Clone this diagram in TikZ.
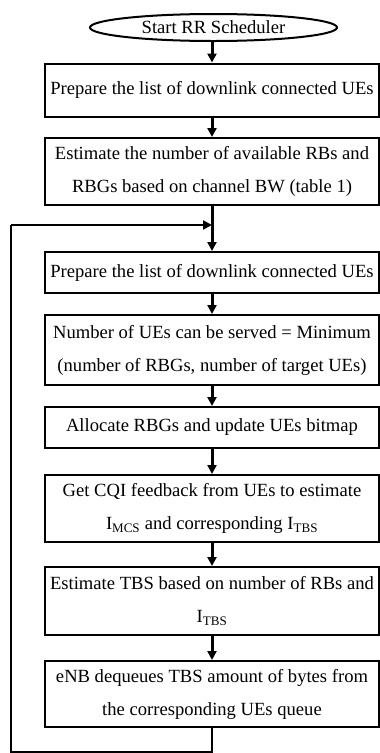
\documentclass[tikz,border=0pt]{standalone}
\usepackage{fontspec}
\setmainfont{Liberation Serif}
\usetikzlibrary{shapes.geometric,arrows.meta}
\begin{document}
\begin{tikzpicture}[x=1pt,y=-1pt,
  procbox/.style={draw=black,line width=2pt,rectangle,minimum width=334pt,inner sep=0pt,align=center,font=\fontsize{18.6}{33}\selectfont},
  arr/.style={line width=3pt,-{Triangle[width=9pt,length=9pt]}},
  fbline/.style={line width=2.5pt}]
\useasboundingbox (0,0) rectangle (380,753);
\node[draw=black,line width=2pt,ellipse,minimum width=247pt,minimum height=27pt,inner sep=0pt,font=\fontsize{18.6}{20}\selectfont] (start) at (213.5,27.5) {Start RR Scheduler};
\node[procbox,minimum height=53pt] (b1) at (212,90) {Prepare the list of downlink connected UEs};
\node[procbox,minimum height=67pt] (b2) at (212,171.5) {Estimate the number of available RBs and\\RBGs based on channel BW (table 1)};
\node[procbox,minimum height=41pt] (b3) at (212,272.5) {Prepare the list of downlink connected UEs};
\node[procbox,minimum height=70pt] (b4) at (212,350) {Number of UEs can be served = Minimum\\(number of RBGs, number of target UEs)};
\node[procbox,minimum height=41pt] (b5) at (212,427.5) {Allocate RBGs and update UEs bitmap};
\node[procbox,minimum height=67pt] (b6) at (212,508.5) {Get CQI feedback from UEs to estimate\\I\textsubscript{MCS} and corresponding I\textsubscript{TBS}};
\node[procbox,minimum height=68pt] (b7) at (212,601) {Estimate TBS based on number of RBs and\\I\textsubscript{TBS}};
\node[procbox,minimum height=66pt] (b8) at (212,694) {eNB dequeues TBS amount of bytes from\\the corresponding UEs queue};
\coordinate (fb1) at (212,752);
\coordinate (fb2) at (11,752);
\coordinate (fb3) at (11,225);
\coordinate (j) at (212,225);
\draw[arr] (start.south -| b1.north) -- (b1.north);
\draw[arr] (b1) -- (b2);
\draw[arr] (b2) -- (b3);
\draw[arr] (b3) -- (b4);
\draw[arr] (b4) -- (b5);
\draw[arr] (b5) -- (b6);
\draw[arr] (b6) -- (b7);
\draw[arr] (b7) -- (b8);
\draw[fbline] (b8.south) -- (fb1) -- (fb2) -- (fb3);
\draw[line width=2.5pt,-{Triangle[width=9pt,length=9pt]}] (fb3) -- (j);
\end{tikzpicture}
\end{document}
